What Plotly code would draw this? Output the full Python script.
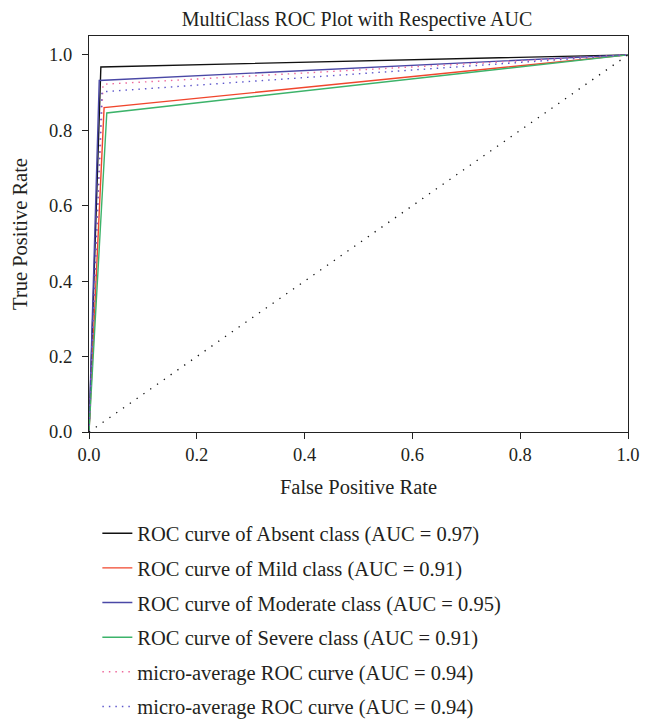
import plotly.graph_objects as go

# ROC curve points (FPR, TPR)
absent_fpr = [0.0, 0.022, 1.0]
absent_tpr = [0.0, 0.968, 1.0]
mild_fpr = [0.0, 0.028, 1.0]
mild_tpr = [0.0, 0.860, 1.0]
moderate_fpr = [0.0, 0.019, 1.0]
moderate_tpr = [0.0, 0.932, 1.0]
severe_fpr = [0.0, 0.033, 1.0]
severe_tpr = [0.0, 0.846, 1.0]
micro1_fpr = [0.0, 0.026, 1.0]
micro1_tpr = [0.0, 0.922, 1.0]
micro2_fpr = [0.0, 0.024, 1.0]
micro2_tpr = [0.0, 0.902, 1.0]
chance_fpr = [0.0, 1.0]
chance_tpr = [0.0, 1.0]

labels = [
    "ROC curve of Absent class (AUC = 0.97)",
    "ROC curve of Mild class (AUC = 0.91)",
    "ROC curve of Moderate class (AUC = 0.95)",
    "ROC curve of Severe class (AUC = 0.91)",
    "micro-average ROC curve (AUC = 0.94)",
    "micro-average ROC curve (AUC = 0.94)",
]

FONT = "Liberation Serif"
TXT = "#231f20"
fig = go.Figure()

series = [
    (absent_fpr, absent_tpr, "#111111", "solid"),
    (mild_fpr, mild_tpr, "#f0462d", "solid"),
    (moderate_fpr, moderate_tpr, "#4a48a6", "solid"),
    (severe_fpr, severe_tpr, "#3cb36a", "solid"),
    (micro1_fpr, micro1_tpr, "#ee6a9c", "1.5px,5px"),
    (micro2_fpr, micro2_tpr, "#5e58cc", "1.5px,5px"),
]
for i, (x, y, c, d) in enumerate(series):
    fig.add_trace(go.Scatter(x=x, y=y, mode="lines", name=labels[i],
                             line=dict(color=c, width=1.4, dash=d),
                             legendgroup=f"g{i}"))

fig.add_trace(go.Scatter(x=chance_fpr, y=chance_tpr, mode="lines",
                         line=dict(color="#111111", width=1.3, dash="1.3px,7px"),
                         showlegend=False))

axis_common = dict(
    showgrid=False, zeroline=False, showline=True, linecolor="#222222",
    linewidth=1.2, mirror=True, ticks="outside", ticklen=6, tickwidth=1.2,
    tickcolor="#222222", tickformat=".1f",
    tickvals=[0, 0.2, 0.4, 0.6, 0.8, 1.0],
    tickfont=dict(family=FONT, size=18.5, color=TXT),
)

fig.update_layout(
    width=659, height=722,
    paper_bgcolor="white", plot_bgcolor="white",
    margin=dict(l=78, r=39, t=28, b=298),
    title=dict(text="MultiClass ROC Plot with Respective AUC",
               x=(357 - 8) / 659, xanchor="center", y=1 - 11 / 722, yanchor="middle",
               font=dict(family=FONT, size=20, color=TXT)),
    xaxis=dict(range=[0, 1.0], title=dict(text="False Positive Rate",
               font=dict(family=FONT, size=20.5, color=TXT), standoff=15),
               **axis_common),
    yaxis=dict(range=[0, 1.05], title=dict(text="True Positive Rate",
               font=dict(family=FONT, size=20.5, color=TXT), standoff=15),
               ticklabelstandoff=6, **axis_common),
    legend=dict(x=0.0155, xanchor="left", y=0.3, yanchor="top", yref="container",
                font=dict(family=FONT, size=20.5, color=TXT),
                tracegroupgap=5, bgcolor="rgba(0,0,0,0)"),
    showlegend=True,
)

fig.write_html("out.html")
